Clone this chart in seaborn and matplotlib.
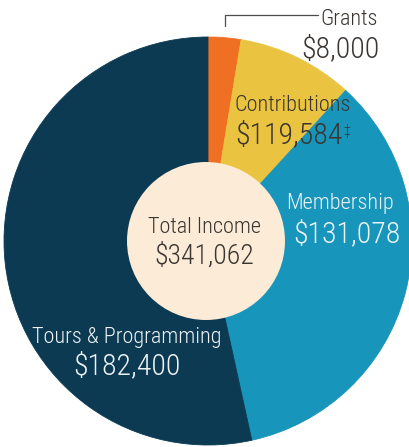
import matplotlib
matplotlib.use("Agg")
import matplotlib.pyplot as plt
import seaborn as sns

# Income sources, clockwise from 12 o'clock
sources = ['Grants', 'Contributions', 'Membership', 'Tours & Programming']
amount_labels = ['$8,000', '$119,584', '$131,078', '$182,400']
# slice sizes as drawn in the picture (percent of the circle)
slice_share = [2.6, 9.2, 34.8, 53.5]
total_label = '$341,062'

colors = sns.color_palette(['#f07023', '#eac441', '#1795bb', '#0c3a52'])

sns.set_style('white')
plt.rcParams['font.family'] = ['Roboto Condensed', 'DejaVu Sans Condensed', 'Roboto', 'DejaVu Sans']
plt.rcParams['font.weight'] = 'light'

W, H = 410, 447
fig = plt.figure(figsize=(W / 100, H / 100), dpi=100)
ax = fig.add_axes([0, 0, 1, 1])

wedges, _ = ax.pie(slice_share, colors=colors, startangle=90, counterclock=False,
                   center=(208, 206), radius=204, frame=True,
                   wedgeprops=dict(linewidth=0.6))
for w, c in zip(wedges, colors):
    w.set_edgecolor(c)
ax.add_patch(plt.Circle((206, 206), 79, color='#fbebd7', lw=0, zorder=3))

ax.set_xlim(0, W)
ax.set_ylim(0, H)
ax.set_aspect('equal')
ax.axis('off')

dark = '#3a3531'
light = '#eef3f6'
lab_fs = 16
amt_fs = 21.5

# Grants (outside, with leader)
ax.plot([225, 225, 318], [421, 432, 432], color='#4d4d4d', lw=0.9, zorder=4)
ax.text(378, 422, sources[0], ha='right', va='baseline', fontsize=lab_fs, color=dark)
ax.text(380, 390, amount_labels[0], ha='right', va='baseline', fontsize=amt_fs, color=dark)

# Contributions
ax.text(235, 336, sources[1], ha='left', va='baseline', fontsize=lab_fs, color=dark, zorder=5)
ax.text(235, 304, amount_labels[1], ha='left', va='baseline', fontsize=amt_fs, color=dark, zorder=5)
ax.text(343, 312, '‡', ha='left', va='baseline', fontsize=10, color=dark, zorder=5)

# Membership
ax.text(340, 238, sources[2], ha='center', va='baseline', fontsize=lab_fs, color=light, zorder=5)
ax.text(347, 205, amount_labels[2], ha='center', va='baseline', fontsize=amt_fs, color=light, zorder=5)

# Tours & Programming
ax.text(127, 104, sources[3], ha='center', va='baseline', fontsize=lab_fs, color=light, zorder=5)
ax.text(127, 73, amount_labels[3], ha='center', va='baseline', fontsize=amt_fs, color=light, zorder=5)

# Center
ax.text(205, 214, 'Total Income', ha='center', va='baseline', fontsize=lab_fs, color=dark, zorder=5)
ax.text(204, 183, total_label, ha='center', va='baseline', fontsize=20, color=dark, zorder=5)

fig.savefig('out.png', dpi=100, facecolor='white')
